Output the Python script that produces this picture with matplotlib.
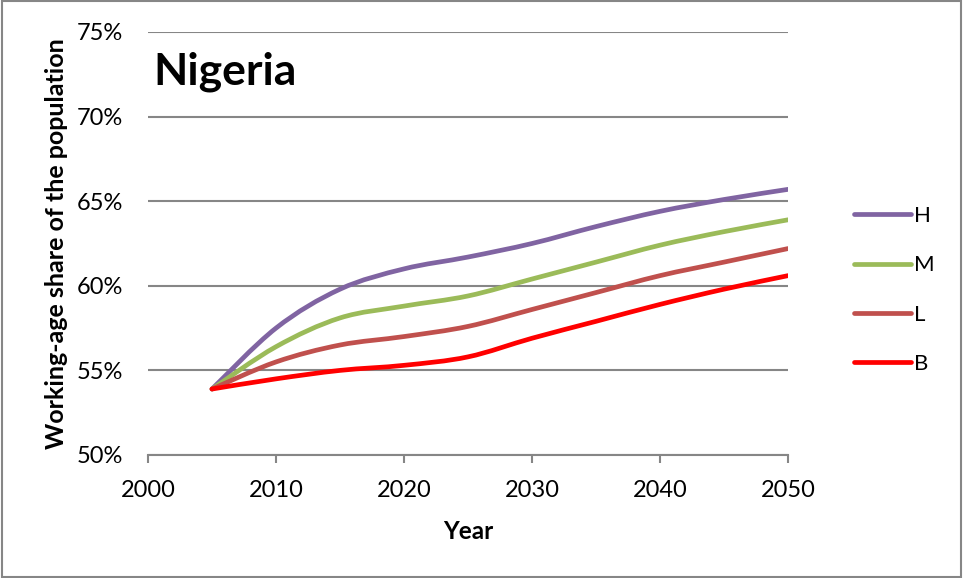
import matplotlib
matplotlib.use("Agg")
import matplotlib.pyplot as plt
from matplotlib.patches import Rectangle, PathPatch
from matplotlib.path import Path
from matplotlib.lines import Line2D

plt.rcParams['font.family'] = ['Lato', 'DejaVu Sans']

years = [2005, 2010, 2015, 2020, 2025, 2030, 2035, 2040, 2045, 2050]
series_names = ["H", "M", "L", "B"]
h_vals = [53.9, 57.5, 59.8, 61.0, 61.7, 62.5, 63.5, 64.4, 65.1, 65.7]
m_vals = [53.9, 56.4, 58.1, 58.8, 59.4, 60.4, 61.4, 62.4, 63.2, 63.9]
l_vals = [53.9, 55.5, 56.5, 57.0, 57.6, 58.6, 59.6, 60.6, 61.4, 62.2]
b_vals = [53.9, 54.5, 55.0, 55.3, 55.8, 56.9, 57.9, 58.9, 59.8, 60.6]
colors = ["#8064A2", "#9BBB59", "#C0504D", "#FF0000"]

x_ticks = [2000, 2010, 2020, 2030, 2040, 2050]
y_ticks = [50, 55, 60, 65, 70, 75]


def smooth_path(xs, ys):
    # Excel-like smoothed line: Catmull-Rom segments as cubic Beziers
    pts = list(zip(xs, ys))
    verts = [pts[0]]
    codes = [Path.MOVETO]
    n = len(pts)
    for i in range(n - 1):
        p0 = pts[i - 1] if i > 0 else pts[i]
        p1 = pts[i]
        p2 = pts[i + 1]
        p3 = pts[i + 2] if i + 2 < n else pts[i + 1]
        c1 = (p1[0] + (p2[0] - p0[0]) / 6, p1[1] + (p2[1] - p0[1]) / 6)
        c2 = (p2[0] - (p3[0] - p1[0]) / 6, p2[1] - (p3[1] - p1[1]) / 6)
        verts += [c1, c2, p2]
        codes += [Path.CURVE4] * 3
    return Path(verts, codes)


fig = plt.figure(figsize=(9.63, 5.78), dpi=100)
ax = fig.add_axes([148/963, 1 - 455/578, 640/963, 423/578])

handles = []
for vals, name, c in zip([h_vals, m_vals, l_vals, b_vals], series_names, colors):
    ax.add_patch(PathPatch(smooth_path(years, vals), facecolor='none',
                           edgecolor=c, lw=3.4, capstyle='round',
                           joinstyle='round', zorder=3))
    handles.append(Line2D([], [], color=c, lw=3.4, solid_capstyle='round',
                          label=name))

ax.set_xlim(2000, 2050)
ax.set_ylim(50, 75)
ax.set_xticks(x_ticks)
ax.set_yticks(y_ticks)
ax.set_yticklabels([f"{v}%" for v in y_ticks])
ax.grid(axis='y', color='#868686', lw=1.5)
ax.set_axisbelow(True)
for s in ['top', 'right', 'left']:
    ax.spines[s].set_visible(False)
ax.spines['bottom'].set_color('#868686')
ax.spines['bottom'].set_linewidth(1.5)
ax.tick_params(axis='y', length=0, labelsize=17, pad=18)
ax.tick_params(axis='x', direction='out', length=6, color='#868686',
               width=1.5, labelsize=17, pad=12)

ax.set_xlabel("Year", fontsize=17.5, fontweight='bold', labelpad=14)
ax.set_ylabel("Working-age share of the population", fontsize=18,
              fontweight='bold', labelpad=6)
ax.text(0.008, 0.955, "Nigeria", transform=ax.transAxes, fontsize=32,
        fontweight='bold', va='top', ha='left')

ax.legend(handles=handles, loc='center left', bbox_to_anchor=(1.072, 0.39),
          frameon=False, fontsize=16, handlelength=2.55, handletextpad=0.15,
          labelspacing=1.32)

fig.patches.append(Rectangle((0.002, 0.002), 0.996, 0.996,
                             transform=fig.transFigure, fill=False,
                             edgecolor='#868686', lw=1.5))

fig.savefig("out.png", dpi=100)
